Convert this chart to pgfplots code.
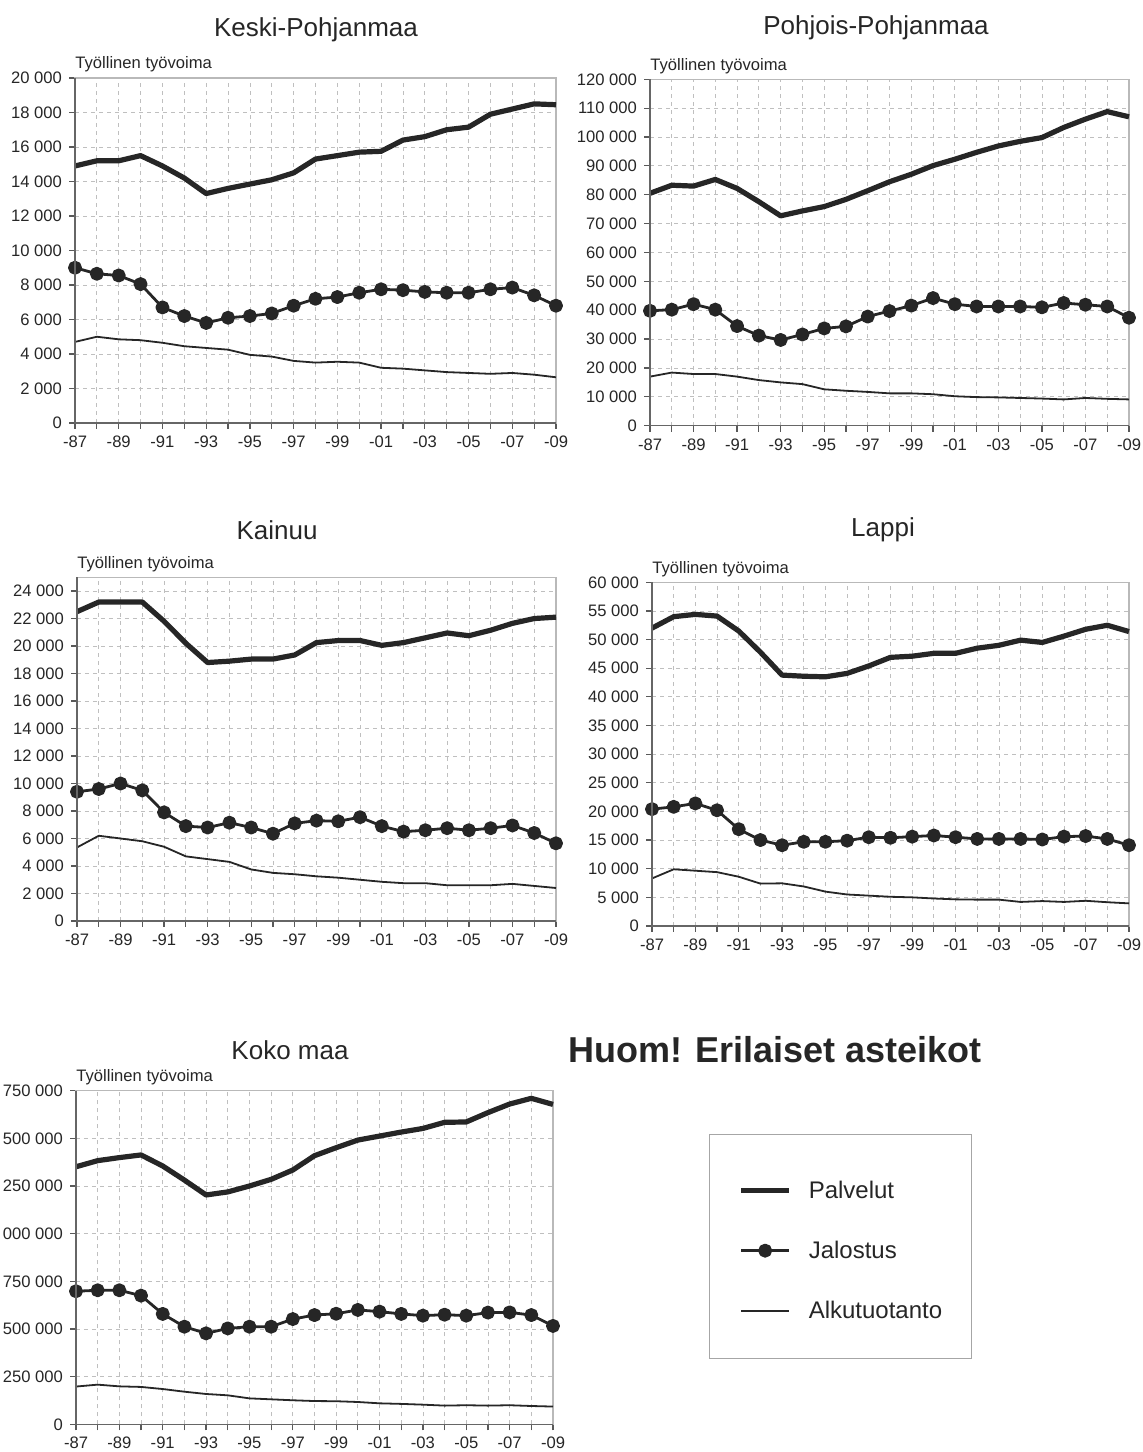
\documentclass[border=0pt]{standalone}
\usepackage{fontspec}
\setmainfont{Liberation Sans}
\usepackage{pgfplots}
\usepackage{pgfplotstable}
\pgfplotsset{compat=1.18}

\pgfplotstableread{
year palv jal alku
1987 14900 9000 4700
1988 15200 8650 5000
1989 15200 8550 4850
1990 15500 8050 4800
1991 14900 6700 4650
1992 14200 6200 4450
1993 13300 5800 4350
1994 13600 6100 4250
1995 13850 6200 3950
1996 14100 6350 3850
1997 14500 6800 3600
1998 15300 7200 3500
1999 15500 7300 3550
2000 15700 7550 3500
2001 15750 7750 3200
2002 16400 7700 3150
2003 16600 7600 3050
2004 17000 7550 2950
2005 17150 7550 2900
2006 17900 7750 2850
2007 18200 7850 2900
2008 18500 7400 2800
2009 18450 6800 2650
}\keski

\pgfplotstableread{
year palv jal alku
1987 80500 39800 17000
1988 83300 40200 18400
1989 83000 42100 17900
1990 85300 40200 17900
1991 82200 34500 17000
1992 77600 31200 15800
1993 72700 29700 15000
1994 74400 31600 14400
1995 75900 33700 12600
1996 78400 34400 12100
1997 81400 37800 11700
1998 84500 39700 11200
1999 87100 41600 11200
2000 90100 44200 10900
2001 92300 42100 10200
2002 94700 41300 9900
2003 96900 41300 9800
2004 98500 41300 9600
2005 99800 41000 9400
2006 103300 42500 9100
2007 106200 41900 9600
2008 108800 41300 9300
2009 107000 37400 9100
}\pohjois

\pgfplotstableread{
year palv jal alku
1987 22500 9400 5350
1988 23200 9600 6200
1989 23200 10000 6000
1990 23200 9500 5800
1991 21800 7900 5400
1992 20200 6900 4700
1993 18800 6800 4500
1994 18900 7150 4300
1995 19050 6800 3750
1996 19050 6350 3500
1997 19350 7100 3400
1998 20250 7300 3250
1999 20400 7250 3150
2000 20400 7550 3000
2001 20050 6900 2850
2002 20250 6500 2750
2003 20600 6600 2750
2004 20950 6750 2600
2005 20750 6600 2600
2006 21150 6750 2600
2007 21650 6950 2700
2008 22000 6400 2550
2009 22100 5650 2400
}\kainuu

\pgfplotstableread{
year palv jal alku
1987 52000 20400 8300
1988 54000 20800 9900
1989 54400 21400 9650
1990 54100 20200 9400
1991 51500 16900 8600
1992 47800 15000 7400
1993 43800 14100 7450
1994 43600 14700 6900
1995 43500 14700 6000
1996 44100 14900 5500
1997 45400 15500 5300
1998 46900 15400 5100
1999 47100 15600 5000
2000 47600 15800 4800
2001 47600 15500 4650
2002 48500 15200 4600
2003 49000 15200 4600
2004 49900 15200 4200
2005 49500 15100 4350
2006 50600 15600 4200
2007 51800 15700 4400
2008 52500 15200 4150
2009 51400 14100 3950
}\lappi

\pgfplotstableread{
year palv jal alku
1987 1351000 698000 198000
1988 1383000 703000 208000
1989 1399000 703000 199000
1990 1413000 675000 196000
1991 1355000 579000 185000
1992 1281000 512000 171000
1993 1203000 477000 159000
1994 1219000 503000 152000
1995 1250000 512000 136000
1996 1285000 512000 131000
1997 1334000 552000 126000
1998 1409000 573000 122000
1999 1451000 580000 121000
2000 1491000 600000 117000
2001 1512000 591000 110000
2002 1533000 579000 107000
2003 1552000 570000 103000
2004 1584000 575000 98000
2005 1586000 570000 100000
2006 1635000 586000 98000
2007 1680000 587000 100000
2008 1710000 573000 96000
2009 1678000 516000 93000
}\koko

\definecolor{ink}{HTML}{262626}

\pgfplotsset{
  panel/.style={
    scale only axis,
    anchor=south west,
    xmin=1987, xmax=2009, ymin=0,
    xtick={1987,1989,...,2009},
    xticklabels={-87,-89,-91,-93,-95,-97,-99,-01,-03,-05,-07,-09},
    minor xtick={1988,1990,...,2008},
    tick pos=left, tick align=outside,
    major tick length=3pt, minor tick length=3pt,
    grid=both,
    major grid style={gray!50, dash pattern=on 2pt off 2pt, line width=0.4pt},
    minor grid style={gray!50, dash pattern=on 2pt off 2pt, line width=0.4pt},
    axis line style={gray!55, line width=0.6pt},
    every tick/.style={black!65, line width=0.6pt},
    tick label style={font=\fontsize{8.3}{10}\selectfont, text=black!85},
    scaled y ticks=false,
    yticklabel style={/pgf/number format/.cd, fixed, 1000 sep={~}, assume math mode=true},
    clip=false,
    title={Työllinen työvoima},
    every axis title/.style={at={(0,1)}, anchor=base west, yshift=4.5pt, inner sep=0pt,
      font=\fontsize{8.3}{10}\selectfont, text=black!85},
    extra description/.code={\draw[black!60, line width=0.6pt] (0,1) -- (0,0) -- (1,0);},
  },
  palv/.style={ink, line width=2.6pt, line join=round, no markers},
  jal/.style={ink, line width=1.4pt, line join=round, mark=*, mark size=2.8pt, mark options={solid, fill=ink}},
  alku/.style={ink, line width=0.9pt, line join=round, no markers},
}

\begin{document}
\begin{tikzpicture}
\useasboundingbox (0,0) rectangle (571pt,726pt);

% Titles
\node[font=\fontsize{13}{15}\selectfont, text=black!85] at (158pt,711pt) {Keski-Pohjanmaa};
\node[font=\fontsize{13}{15}\selectfont, text=black!85] at (438pt,712pt) {Pohjois-Pohjanmaa};
\node[font=\fontsize{13}{15}\selectfont, text=black!85] at (138.5pt,461pt) {Kainuu};
\node[font=\fontsize{13}{15}\selectfont, text=black!85] at (441.5pt,461pt) {Lappi};
\node[font=\fontsize{13}{15}\selectfont, text=black!85] at (145pt,201pt) {Koko maa};
\node[font=\bfseries\fontsize{18}{20}\selectfont, text=black!85] at (387.5pt,201pt) {Huom! Erilaiset asteikot};

% Keski-Pohjanmaa
\begin{axis}[panel, at={(37.5pt,514.5pt)}, width=240.5pt, height=172.5pt,
  ymax=20000, ytick={0,2000,...,20000}]
\addplot[palv] table[x=year,y=palv]{\keski};
\addplot[jal] table[x=year,y=jal]{\keski};
\addplot[alku] table[x=year,y=alku]{\keski};
\end{axis}

% Pohjois-Pohjanmaa
\begin{axis}[panel, at={(325pt,513.15pt)}, width=239.5pt, height=173.2pt,
  ymax=120000, ytick={0,10000,...,120000}]
\addplot[palv] table[x=year,y=palv]{\pohjois};
\addplot[jal] table[x=year,y=jal]{\pohjois};
\addplot[alku] table[x=year,y=alku]{\pohjois};
\end{axis}

% Kainuu
\begin{axis}[panel, at={(38.5pt,265.5pt)}, width=239.5pt, height=171.85pt,
  ymax=25000, ytick={0,2000,...,24000}]
\addplot[palv] table[x=year,y=palv]{\kainuu};
\addplot[jal] table[x=year,y=jal]{\kainuu};
\addplot[alku] table[x=year,y=alku]{\kainuu};
\end{axis}

% Lappi
\begin{axis}[panel, at={(326pt,263pt)}, width=238.5pt, height=171.85pt,
  ymax=60000, ytick={0,5000,...,60000}]
\addplot[palv] table[x=year,y=palv]{\lappi};
\addplot[jal] table[x=year,y=jal]{\lappi};
\addplot[alku] table[x=year,y=alku]{\lappi};
\end{axis}

% Koko maa
\begin{axis}[panel, at={(38pt,13.85pt)}, width=238.5pt, height=166.8pt,
  ymax=1750000, ytick={0,250000,500000,750000,1000000,1250000,1500000,1750000},
  yticklabels={0,250 000,500 000,750 000,000 000,250 000,500 000,750 000},
  legend style={at={(1.327,0.870)}, anchor=north west, draw=gray!70, line width=0.6pt,
    inner xsep=14.5pt, inner ysep=20pt, row sep=18pt,
    font=\fontsize{12}{14}\selectfont, text=black!85,
    nodes={inner sep=0pt, text height=12pt, text depth=0pt},
    /tikz/every odd column/.append style={column sep=8.5pt}},
  legend cell align=left,
  legend image code/.code={\draw[mark repeat=2,mark phase=2,#1] plot coordinates {(0pt,-2pt) (12pt,-2pt) (24pt,-2pt)};},
]
\addplot[palv] table[x=year,y=palv]{\koko};
\addlegendentry{Palvelut}
\addplot[jal] table[x=year,y=jal]{\koko};
\addlegendentry{Jalostus}
\addplot[alku] table[x=year,y=alku]{\koko};
\addlegendentry{Alkutuotanto}
\end{axis}
\end{tikzpicture}
\end{document}
